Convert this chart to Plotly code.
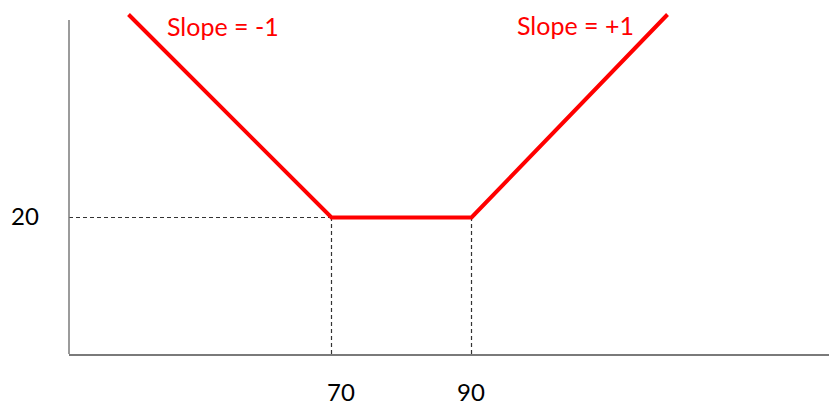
import plotly.graph_objects as go

# Payoff-style piecewise line (x, y)
line_x = [41, 70, 90, 118]
line_y = [49, 20, 20, 49]

# Reference markers
kink_x = [70, 90]
floor_y = 20
x_tick_labels = ["70", "90"]
y_tick_label = "20"
slope_labels = ["Slope = -1", "Slope = +1"]

RED = "#FF0000"
AXIS = "#7a7a7a"
DASH = "#333333"
FONT = "Lato"

X_RANGE = [32.5, 141.07]
Y_RANGE = [0.5, 49.93]

fig = go.Figure()
fig.add_trace(go.Scatter(
    x=line_x, y=line_y, mode="lines",
    line=dict(color=RED, width=4), hoverinfo="skip", showlegend=False,
))

shapes = []
# y axis (does not reach the top)
shapes.append(dict(type="line", xref="paper", yref="paper", x0=0, x1=0, y0=0, y1=0.9653,
                   line=dict(color=AXIS, width=1.5)))
# dashed guides
shapes.append(dict(type="line", xref="x", yref="y", x0=X_RANGE[0], x1=kink_x[0],
                   y0=floor_y, y1=floor_y, line=dict(color=DASH, width=1.2, dash="4px,3px"), layer="below"))
for kx in kink_x:
    shapes.append(dict(type="line", xref="x", yref="y", x0=kx, x1=kx,
                       y0=Y_RANGE[0], y1=floor_y, line=dict(color=DASH, width=1.2, dash="4px,3px"), layer="below"))

annotations = []
for lab, kx, xs in zip(x_tick_labels, kink_x, [9, -1]):
    annotations.append(dict(text=lab, x=kx, xref="x", y=-0.1098, yref="paper", xshift=xs,
                            showarrow=False, font=dict(family=FONT, size=24, color="#000000"),
                            xanchor="center", yanchor="middle"))
annotations.append(dict(text=y_tick_label, x=-0.0579, xref="paper", y=floor_y, yref="y", yshift=2,
                        showarrow=False, font=dict(family=FONT, size=24, color="#000000"),
                        xanchor="center", yanchor="middle"))
for lab, px, ys in zip(slope_labels, [0.202, 0.6664], [-1, 0]):
    annotations.append(dict(text=lab, x=px, xref="paper", y=1, yref="paper", yshift=ys,
                            showarrow=False, font=dict(family=FONT, size=25, color=RED),
                            xanchor="center", yanchor="top"))

fig.update_layout(
    width=837, height=405,
    margin=dict(l=61, r=16, t=0, b=59),
    paper_bgcolor="white", plot_bgcolor="white",
    showlegend=False,
    xaxis=dict(range=X_RANGE, showgrid=False, zeroline=False, showticklabels=False, ticks="",
               showline=True, linecolor=AXIS, linewidth=2, fixedrange=True),
    yaxis=dict(range=Y_RANGE, showgrid=False, zeroline=False, showticklabels=False, ticks="",
               showline=False, fixedrange=True),
    shapes=shapes,
    annotations=annotations,
)

fig.write_html("out.html")
